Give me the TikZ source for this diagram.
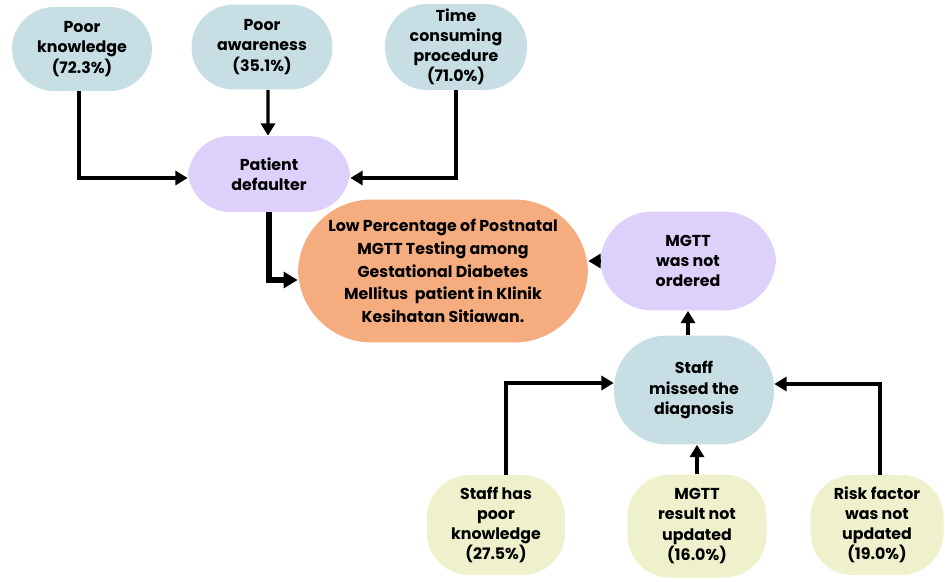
\documentclass[tikz,border=0pt]{standalone}
\usepackage{fontspec}
\setmainfont{Poppins}
\usetikzlibrary{arrows.meta}
\definecolor{causeblue}{HTML}{C6DEE4}
\definecolor{lavender}{HTML}{DDD1FC}
\definecolor{mainorange}{HTML}{F5AD80}
\definecolor{paleyellow}{HTML}{EFF1CC}
\tikzset{
  box/.style={rounded corners=24pt, align=center, inner sep=2pt,
    font=\fontsize{9}{11.5}\selectfont\bfseries},
  link/.style={line width=1.8pt, -{Triangle[length=7pt,width=8pt]}},
}
\begin{document}
\begin{tikzpicture}[x=0.02cm,y=-0.02cm]
\useasboundingbox (0,0) rectangle (945,581);
\node[box, fill=causeblue, minimum width=2.8cm, minimum height=1.68cm] (knowledge) at (82,49) {Poor\\knowledge\\(72.3\%)};
\node[box, fill=causeblue, minimum width=2.82cm, minimum height=1.7cm] (awareness) at (262,47) {Poor\\awareness\\(35.1\%)};
\node[box, fill=causeblue, minimum width=2.84cm, minimum height=1.72cm] (procedure) at (456,47) {Time\\consuming\\procedure\\(71.0\%)};
\node[box, fill=lavender, minimum width=3.24cm, minimum height=1.52cm] (defaulter) at (269,174) {Patient\\defaulter};
\node[box, fill=mainorange, rounded corners=42pt, minimum width=5.8cm, minimum height=2.86cm,
  font=\fontsize{9}{13}\selectfont\bfseries] (problem) at (443,271)
  {Low Percentage of Postnatal\\MGTT Testing among\\Gestational Diabetes\\Mellitus\ \ patient in Klinik\\Kesihatan Sitiawan.};
\node[box, fill=lavender, rounded corners=30pt, minimum width=3.52cm, minimum height=1.98cm] (ordered) at (688,261) {MGTT\\was not\\ordered};
\node[box, fill=causeblue, rounded corners=30pt, minimum width=3.2cm, minimum height=2.18cm] (missed) at (694,390) {Staff\\missed the\\diagnosis};
\node[box, fill=paleyellow, minimum width=2.76cm, minimum height=2cm] (staffknow) at (496,525) {Staff has\\poor\\knowledge\\(27.5\%)};
\node[box, fill=paleyellow, minimum width=2.78cm, minimum height=2.06cm] (result) at (697,526) {MGTT\\result not\\updated\\(16.0\%)};
\node[box, fill=paleyellow, minimum width=2.66cm, minimum height=2cm] (risk) at (877,525) {Risk factor\\was not\\updated\\(19.0\%)};
% top causes
\draw[link] ([xshift=-0.06cm]knowledge.south) |- ([yshift=-0.08cm]defaulter.west);
\draw[link] ([xshift=0.12cm]awareness.south) -- ([xshift=-0.02cm]defaulter.north);
\draw[link] (procedure.south) |- ([yshift=-0.08cm]defaulter.east);
\draw[line width=3pt, -{Triangle[length=8pt,width=9pt]}] (defaulter.south) |- ([yshift=-0.18cm]problem.west);
% staff side
\draw[link] (ordered.west) -- (ordered.west -| problem.east);
\draw[link] (missed.north -| ordered.south) -- (ordered.south);
\draw[link] ([xshift=0.2cm]staffknow.north) |- ([yshift=0.14cm]missed.west);
\draw[link] (result.north) -- (result.north |- missed.south);
\draw[link] ([xshift=0.06cm]risk.north) |- ([yshift=0.12cm]missed.east);
\end{tikzpicture}
\end{document}
